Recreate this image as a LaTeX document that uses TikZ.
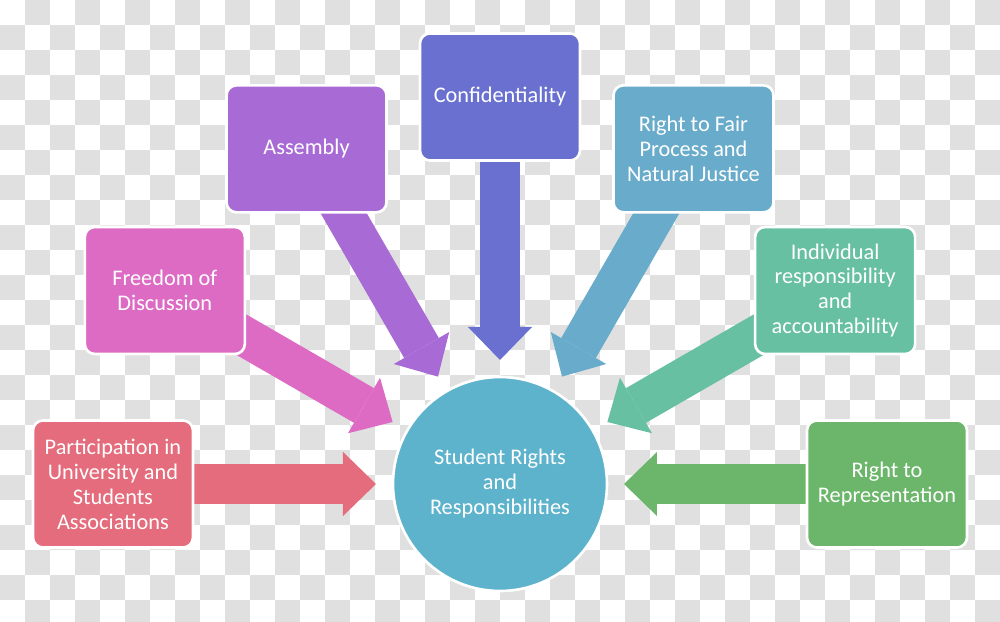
\documentclass[tikz,border=0pt]{standalone}
\usepackage{xcolor}
\usepackage{tikz}
\usepackage{fontspec}
\setmainfont{Carlito}
\usetikzlibrary{shapes,arrows.meta,positioning,calc,backgrounds}
\definecolor{accentred}{RGB}{228,108,124}
\definecolor{accentpink}{RGB}{221,107,196}
\definecolor{accentpurple}{RGB}{168,107,214}
\definecolor{accentblue}{RGB}{106,112,208}
\definecolor{accentsky}{RGB}{104,171,202}
\definecolor{accentteal}{RGB}{104,192,162}
\definecolor{accentgreen}{RGB}{107,182,107}
\definecolor{accentcyan}{RGB}{94,179,204}
\definecolor{checkgray}{RGB}{224,224,224}
\pgfdeclarelayer{checker}
\pgfsetlayers{checker,background,main}

\begin{document}
\begin{tikzpicture}[
    box/.style={rectangle, rounded corners=0.2cm, draw=white, line width=1.5pt,
      minimum width=3.2cm, minimum height=2.54cm, align=center, text=white,
      font=\fontsize{12.7}{14.2}\selectfont},
    fat/.style={line width=0.8cm, -{Triangle[width=1.28cm,length=0.66cm,line width=0pt]}}
  ]
  \useasboundingbox (-10,-2.76) rectangle (10,9.68);

  % Checkerboard
  \begin{pgfonlayer}{checker}
    \begin{scope}
      \clip (-10,-2.76) rectangle (10,9.68);
      \fill[white] (-10,-2.76) rectangle (10,9.68);
      \foreach \i in {0,...,39}
        \foreach \j in {0,...,24}
          {\ifodd\numexpr\i+\j\relax
             \fill[checkgray] (0.5*\i-10,9.68-0.5*\j) rectangle ++(0.5,-0.5);
           \fi}
    \end{scope}
  \end{pgfonlayer}

  % Centre
  \node[circle, minimum size=4.28cm, fill=accentcyan, draw=white, line width=1.5pt,
    align=center, text=white, font=\fontsize{12.7}{14.2}\selectfont] (c) at (0,0)
    {Student Rights\\and\\Responsibilities};

  % Boxes
  \node[box, fill=accentred] (part) at (180:7.74) {Participation in\\University and\\Students\\Associations};
  \node[box, fill=accentpink] (disc) at (150:7.74) {Freedom of\\Discussion};
  \node[box, fill=accentpurple] (asm) at (120:7.74) {Assembly};
  \node[box, fill=accentblue] (conf) at (90:7.74) {Confidentiality};
  \node[box, fill=accentsky] (fair) at (60:7.74) {Right to Fair\\Process and\\Natural Justice};
  \node[box, fill=accentteal] (indiv) at (30:7.74) {Individual\\responsibility\\and\\accountability};
  \node[box, fill=accentgreen] (repr) at (0:7.74) {Right to\\Representation};

  % Arrow tips
  \coordinate (tpart) at ($(c)+(180:2.48)$);
  \coordinate (tdisc) at ($(c)+(150:2.48)$);
  \coordinate (tasm) at ($(c)+(120:2.48)$);
  \coordinate (tconf) at ($(c)+(90:2.48)$);
  \coordinate (tfair) at ($(c)+(60:2.48)$);
  \coordinate (tindiv) at ($(c)+(30:2.48)$);
  \coordinate (trepr) at ($(c)+(0:2.48)$);

  % Arrows
  \begin{pgfonlayer}{background}
    \draw[fat, accentred] (part.center) -- (tpart);
    \draw[fat, accentpink] (disc.center) -- (tdisc);
    \draw[fat, accentpurple] (asm.center) -- (tasm);
    \draw[fat, accentblue] (conf.center) -- (tconf);
    \draw[fat, accentsky] (fair.center) -- (tfair);
    \draw[fat, accentteal] (indiv.center) -- (tindiv);
    \draw[fat, accentgreen] (repr.center) -- (trepr);
  \end{pgfonlayer}
\end{tikzpicture}
\end{document}
